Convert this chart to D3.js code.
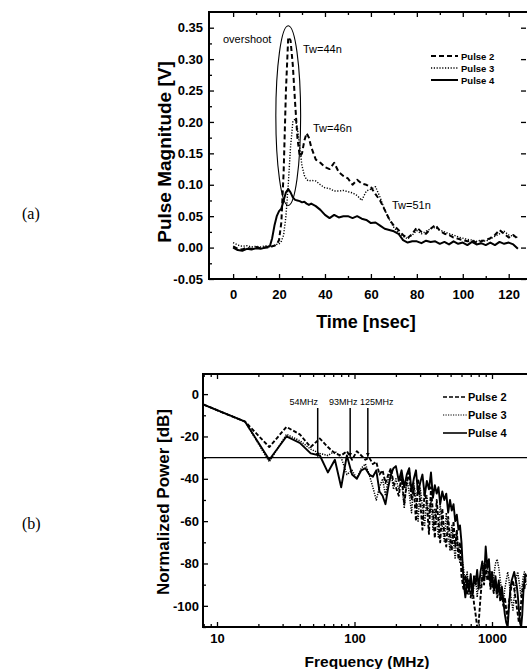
<!DOCTYPE html>
<html lang="en">
<head>
<meta charset="utf-8">
<title>Pulse / spectrum</title>
<style>
  body { margin: 0; background: #fff; }
  svg { display: block; }
  .tick text { font-family: "Liberation Sans", Arial, sans-serif; font-weight: bold; font-size: 13px; fill: #000; }
  .tick line { stroke: #000; stroke-width: 1.3; }
  .lbl { font-family: "Liberation Sans", Arial, sans-serif; fill: #000; }
</style>
</head>
<body>
<div id="chart"></div>
<script src="https://cdn.jsdelivr.net/npm/d3@7"></script>
<script>
// ---- panel (a): pulse magnitude vs time ----
var timeNs = [0,2,4,6,8,10,12,14,16,17,18,19,20,21,22,23,24,25,26,27,28,29,30,31,32,33,34,
  36,38,40,42,44,46,48,50,52,54,56,58,60,62,64,66,68,70,72,74,76,78,80,82,84,86,88,90,
  92,94,96,98,100,102,104,106,108,110,112,114,116,118,120,122,124];

var pulse2Mag = [0.002,-0.002,-0.003,0.000,-0.002,0.001,-0.001,0.000,0.000,0.002,0.003,0.005,0.012,0.04,0.12,0.25,0.335,0.33,0.29,0.23,0.175,0.145,0.15,0.17,0.182,0.175,0.16,
  0.14,0.135,0.128,0.125,0.135,0.12,0.114,0.11,0.1,0.108,0.102,0.1,0.096,0.085,0.075,0.06,0.045,0.035,0.028,0.02,0.015,0.022,0.032,0.025,0.022,0.03,0.036,0.027,
  0.022,0.02,0.016,0.014,0.012,0.01,0.011,0.008,0.01,0.012,0.015,0.02,0.028,0.022,0.016,0.02,0.014];

var pulse3Mag = [0.008,0.004,0.002,0.003,0.001,0.002,0.001,0.003,0.002,0.002,0.004,0.005,0.006,0.01,0.02,0.05,0.1,0.16,0.2,0.205,0.19,0.16,0.13,0.115,0.108,0.106,0.107,
  0.106,0.1,0.095,0.094,0.09,0.09,0.091,0.089,0.087,0.083,0.075,0.09,0.093,0.097,0.08,0.06,0.045,0.032,0.024,0.018,0.014,0.02,0.027,0.022,0.026,0.03,0.032,0.028,
  0.025,0.022,0.02,0.017,0.015,0.013,0.012,0.01,0.012,0.01,0.014,0.018,0.022,0.026,0.02,0.018,0.016];

var pulse4Mag = [0.000,-0.004,-0.005,-0.002,-0.003,-0.001,-0.002,0.000,0.002,0.015,0.035,0.05,0.058,0.062,0.075,0.088,0.093,0.088,0.08,0.076,0.075,0.074,0.072,0.073,0.07,0.068,0.07,
  0.066,0.06,0.052,0.047,0.052,0.048,0.05,0.05,0.047,0.05,0.046,0.044,0.039,0.04,0.035,0.03,0.028,0.026,0.022,0.012,0.008,0.01,0.01,0.007,0.011,0.009,0.01,0.006,
  0.009,0.005,0.01,0.006,0.008,0.004,0.009,0.005,0.007,0.004,0.008,0.004,0.009,0.006,0.008,0.005,-0.002];

var timeTicks = [0,20,40,60,80,100,120];
var timeMinor = [10,30,50,70,90,110];
var magTicks = [-0.05,0,0.05,0.10,0.15,0.20,0.25,0.30,0.35];
var magMinor = [-0.025,0.025,0.075,0.125,0.175,0.225,0.275,0.325];

// ---- panel (b): normalized power spectrum ----
var freqMHz = [8,16,24,32,40,48,56,64,72,80,88,96,104,112,120,128,136,144,152,160,168,176,184,192,200,
  210,220,230,240,250,260,270,280,290,300,312,324,336,348,360,372,384,396,408,420,435,450,465,480,495,510,525,540,555,570,585,600,
  620,640,660,680,700,720,740,760,780,800,825,850,875,900,925,950,975,1000,
  1030,1060,1090,1120,1150,1180,1210,1240,1270,1300,1330,1360,1390,1420,1450,1480,1510,1540,1570,1600,1630,1660,1690,1720,1750,1780];

var pulse2dB = [-5,-13,-25,-15.5,-19,-25,-21,-25,-28,-29,-27,-31,-27,-29,-31,-30,-33,-32,-38,-36,-42,-38,-35,-42,-44,
  -48,-38,-52,-42,-37,-50,-44,-60,-40,-50,-64,-45,-52,-66,-44,-56,-68,-50,-60,-70,-54,-66,-72,-58,-68,-74,-60,-72,-64,-78,-70,-86,
  -92,-86,-95,-88,-96,-90,-99,-104,-110,-108,-96,-86,-90,-80,-88,-84,-92,-88,
  -94,-90,-96,-92,-98,-94,-100,-96,-102,-106,-98,-94,-90,-88,-92,-96,-100,-104,-108,-104,-98,-94,-90,-92,-88,-90];

var pulse3dB = [-5,-13,-32,-19,-22,-26,-28,-29,-27,-30,-38,-36,-40,-35,-33,-38,-44,-50,-44,-40,-48,-40,-36,-45,-40,
  -45,-40,-54,-39,-47,-56,-42,-50,-60,-44,-53,-62,-48,-58,-50,-64,-54,-60,-68,-52,-62,-70,-56,-66,-74,-62,-70,-78,-66,-74,-80,-76,
  -82,-90,-84,-95,-86,-97,-90,-86,-96,-88,-92,-84,-80,-86,-82,-88,-84,-90,
  -86,-80,-78,-82,-88,-94,-98,-92,-88,-84,-88,-94,-98,-102,-96,-90,-86,-84,-88,-92,-96,-90,-86,-84,-88,-86];

var pulse4dB = [-5,-13,-31,-20,-23,-28,-29,-37,-31,-44,-29,-38,-40,-36,-35,-38,-39,-36,-46,-48,-52,-44,-38,-35,-34,
  -41,-36,-44,-38,-35,-46,-40,-36,-47,-42,-38,-48,-41,-45,-37,-49,-43,-47,-44,-52,-46,-50,-47,-56,-50,-55,-52,-60,-57,-64,-62,-70,
  -88,-96,-87,-93,-85,-95,-86,-90,-83,-92,-84,-79,-88,-72,-82,-78,-90,-84,
  -92,-86,-94,-88,-96,-91,-98,-104,-108,-110,-100,-92,-88,-86,-84,-87,-90,-95,-102,-108,-110,-104,-94,-88,-85,-86];

var dbTicks = [-100,-80,-60,-40,-20,0];
var dbMinor = [-110,-90,-70,-50,-30,-10];
var freqMajor = [10,100,1000];
var refLevel = -30;
var markFreqs = [54,93,125];
var markLabels = ["54MHz","93MHz","125MHz"];
var legendNames = ["Pulse 2","Pulse 3","Pulse 4"];

var width = 527, height = 669;

var svg = d3.select("#chart").append("svg")
    .attr("width", width)
    .attr("height", height);

var styles = [
  {dash: "5,3", w: 2},
  {dash: "1.2,1.6", w: 1.4},
  {dash: null, w: 2}
];
var stylesB = [
  {dash: "4,2", w: 1.9},
  {dash: "1.2,1.3", w: 1.5},
  {dash: null, w: 1.9}
];

// ================= panel (a) =================
var ax = d3.scaleLinear().domain([-10.5, 128.4]).range([209, 528]);
var ay = d3.scaleLinear().domain([-0.05, 0.375]).range([279, 12]);

var ga = svg.append("g");

function noDomain(g) { g.select(".domain").remove(); }

ga.append("g").attr("transform", "translate(0,279)")
  .call(d3.axisBottom(ax).tickValues(timeTicks).tickSize(-5).tickPadding(11).tickFormat(function(d){ return d; }))
  .call(noDomain);
ga.append("g").attr("transform", "translate(0,279)")
  .call(d3.axisBottom(ax).tickValues(timeMinor).tickSize(-3).tickFormat(""))
  .call(noDomain);
ga.append("g").attr("transform", "translate(0,12)")
  .call(d3.axisTop(ax).tickValues(timeTicks).tickSize(-5).tickFormat(""))
  .call(noDomain);
ga.append("g").attr("transform", "translate(0,12)")
  .call(d3.axisTop(ax).tickValues(timeMinor).tickSize(-3).tickFormat(""))
  .call(noDomain);
ga.append("g").attr("transform", "translate(209,0)")
  .call(d3.axisLeft(ay).tickValues(magTicks).tickSize(-5).tickPadding(6).tickFormat(function(d){ return d.toFixed(2); }))
  .call(noDomain);
ga.append("g").attr("transform", "translate(209,0)")
  .call(d3.axisLeft(ay).tickValues(magMinor).tickSize(-3).tickFormat(""))
  .call(noDomain);
ga.append("g").attr("transform", "translate(526,0)")
  .call(d3.axisRight(ay).tickValues(magTicks).tickSize(-5).tickFormat(""))
  .call(noDomain);

ga.append("rect")
  .attr("x", 209).attr("y", 12)
  .attr("width", 528 - 209).attr("height", 279 - 12)
  .attr("fill", "none").attr("stroke", "#000").attr("stroke-width", 2);

var lineA = d3.line()
    .x(function(d){ return ax(d[0]); })
    .y(function(d){ return ay(d[1]); });

[pulse2Mag, pulse3Mag, pulse4Mag].forEach(function(series, i) {
  ga.append("path")
    .datum(timeNs.map(function(t, k){ return [t, series[k]]; }))
    .attr("d", lineA)
    .attr("fill", "none")
    .attr("stroke", "#000")
    .attr("stroke-width", styles[i].w)
    .attr("stroke-dasharray", styles[i].dash)
    .attr("stroke-linejoin", "round");
});

// overshoot ellipse
ga.append("ellipse")
  .attr("cx", ax(24)).attr("cy", ay(0.21))
  .attr("rx", ax(24) - ax(18.6)).attr("ry", ay(0.067) - ay(0.21))
  .attr("fill", "none").attr("stroke", "#000").attr("stroke-width", 1.1);

var notesA = [
  {t: "overshoot", x: 223, y: 43},
  {t: "Tw=44n", x: 303, y: 53},
  {t: "Tw=46n", x: 313, y: 132},
  {t: "Tw=51n", x: 392, y: 209}
];
ga.selectAll(".note").data(notesA).enter().append("text")
  .attr("class", "lbl")
  .attr("x", function(d){ return d.x; })
  .attr("y", function(d){ return d.y; })
  .attr("font-size", 11)
  .text(function(d){ return d.t; });

// legend (a)
legendNames.forEach(function(name, i) {
  var yy = 56 + i * 12;
  ga.append("line")
    .attr("x1", 431).attr("x2", 458).attr("y1", yy).attr("y2", yy)
    .attr("stroke", "#000").attr("stroke-width", styles[i].w)
    .attr("stroke-dasharray", styles[i].dash);
  ga.append("text").attr("class", "lbl")
    .attr("x", 461).attr("y", yy + 3.5)
    .attr("font-size", 9.5).attr("font-weight", "bold")
    .text(name);
});

ga.append("text").attr("class", "lbl")
  .attr("x", 366).attr("y", 328)
  .attr("text-anchor", "middle")
  .attr("font-size", 18).attr("font-weight", "bold")
  .text("Time [nsec]");

ga.append("text").attr("class", "lbl")
  .attr("transform", "translate(171,152) rotate(-90)")
  .attr("text-anchor", "middle")
  .attr("font-size", 19).attr("font-weight", "bold")
  .text("Pulse Magnitude [V]");

svg.append("text")
  .attr("x", 22).attr("y", 219)
  .attr("font-family", "'Liberation Serif', 'Times New Roman', serif")
  .attr("font-size", 16)
  .text("(a)");

// ================= panel (b) =================
var bx = d3.scaleLog().domain([7.91, 1797]).range([203, 527]);
var by = d3.scaleLinear().domain([-110, 9.5]).range([627, 374]);

var freqMinor = bx.ticks().filter(function(d){ return freqMajor.indexOf(d) < 0; });

var gb = svg.append("g");

gb.append("g").attr("transform", "translate(0,627)")
  .call(d3.axisBottom(bx).tickValues(freqMajor).tickSize(-5).tickPadding(7).tickFormat(function(d){ return d; }))
  .call(noDomain);
gb.append("g").attr("transform", "translate(0,627)")
  .call(d3.axisBottom(bx).tickValues(freqMinor).tickSize(-3).tickFormat(""))
  .call(noDomain);
gb.append("g").attr("transform", "translate(0,374)")
  .call(d3.axisTop(bx).tickValues(freqMajor).tickSize(-5).tickFormat(""))
  .call(noDomain);
gb.append("g").attr("transform", "translate(0,374)")
  .call(d3.axisTop(bx).tickValues(freqMinor).tickSize(-3).tickFormat(""))
  .call(noDomain);
gb.append("g").attr("transform", "translate(203,0)")
  .call(d3.axisLeft(by).tickValues(dbTicks).tickSize(-5).tickPadding(4).tickFormat(function(d){ return d; }))
  .call(noDomain);
gb.append("g").attr("transform", "translate(203,0)")
  .call(d3.axisLeft(by).tickValues(dbMinor).tickSize(-3).tickFormat(""))
  .call(noDomain);

gb.append("path")
  .attr("d", "M530,374H203V627H530")
  .attr("fill", "none").attr("stroke", "#000").attr("stroke-width", 2);

// -30 dB reference line
gb.append("line")
  .attr("x1", 203).attr("x2", 527)
  .attr("y1", by(refLevel)).attr("y2", by(refLevel))
  .attr("stroke", "#000").attr("stroke-width", 1.1);

svg.append("clipPath").attr("id", "clipB")
  .append("rect").attr("x", 203).attr("y", 374).attr("width", 330).attr("height", 253);

var lineB = d3.line()
    .x(function(d){ return bx(d[0]); })
    .y(function(d){ return by(d[1]); });

[pulse2dB, pulse3dB, pulse4dB].forEach(function(series, i) {
  gb.append("path")
    .datum(freqMHz.map(function(f, k){ return [f, series[k]]; }))
    .attr("d", lineB)
    .attr("clip-path", "url(#clipB)")
    .attr("fill", "none")
    .attr("stroke", "#000")
    .attr("stroke-width", stylesB[i].w)
    .attr("stroke-dasharray", stylesB[i].dash)
    .attr("stroke-linejoin", "round");
});

// arrows
svg.append("defs").append("marker")
  .attr("id", "arr")
  .attr("viewBox", "0 0 6 8")
  .attr("refX", 6).attr("refY", 3)
  .attr("markerWidth", 7).attr("markerHeight", 5)
  .attr("markerUnits", "userSpaceOnUse")
  .attr("orient", "auto")
  .append("path").attr("d", "M0,0L6,3L0,6Z").attr("fill", "#000");

var labelDx = [-14, -7, 9];
markFreqs.forEach(function(f, i) {
  gb.append("line")
    .attr("x1", bx(f)).attr("x2", bx(f))
    .attr("y1", 408).attr("y2", by(refLevel) - 1)
    .attr("stroke", "#000").attr("stroke-width", 1.5)
    .attr("marker-end", "url(#arr)");
  gb.append("text").attr("class", "lbl")
    .attr("x", bx(f) + labelDx[i]).attr("y", 405)
    .attr("text-anchor", "middle")
    .attr("font-size", 9)
    .text(markLabels[i]);
});

// legend (b)
legendNames.forEach(function(name, i) {
  var yy = 397 + i * 18;
  gb.append("line")
    .attr("x1", 443).attr("x2", 467).attr("y1", yy).attr("y2", yy)
    .attr("stroke", "#000").attr("stroke-width", i == 1 ? 1.2 : 1.6)
    .attr("stroke-dasharray", stylesB[i].dash);
  gb.append("text").attr("class", "lbl")
    .attr("x", 468).attr("y", yy + 4)
    .attr("font-size", 11).attr("font-weight", "bold")
    .text(name);
});

gb.append("text").attr("class", "lbl")
  .attr("x", 367).attr("y", 667)
  .attr("text-anchor", "middle")
  .attr("font-size", 15.5).attr("font-weight", "bold")
  .text("Frequency (MHz)");

gb.append("text").attr("class", "lbl")
  .attr("transform", "translate(169,502) rotate(-90)")
  .attr("text-anchor", "middle")
  .attr("font-size", 17).attr("font-weight", "bold")
  .text("Normalized Power [dB]");

svg.append("text")
  .attr("x", 22).attr("y", 529)
  .attr("font-family", "'Liberation Serif', 'Times New Roman', serif")
  .attr("font-size", 16)
  .text("(b)");
</script>
</body>
</html>
